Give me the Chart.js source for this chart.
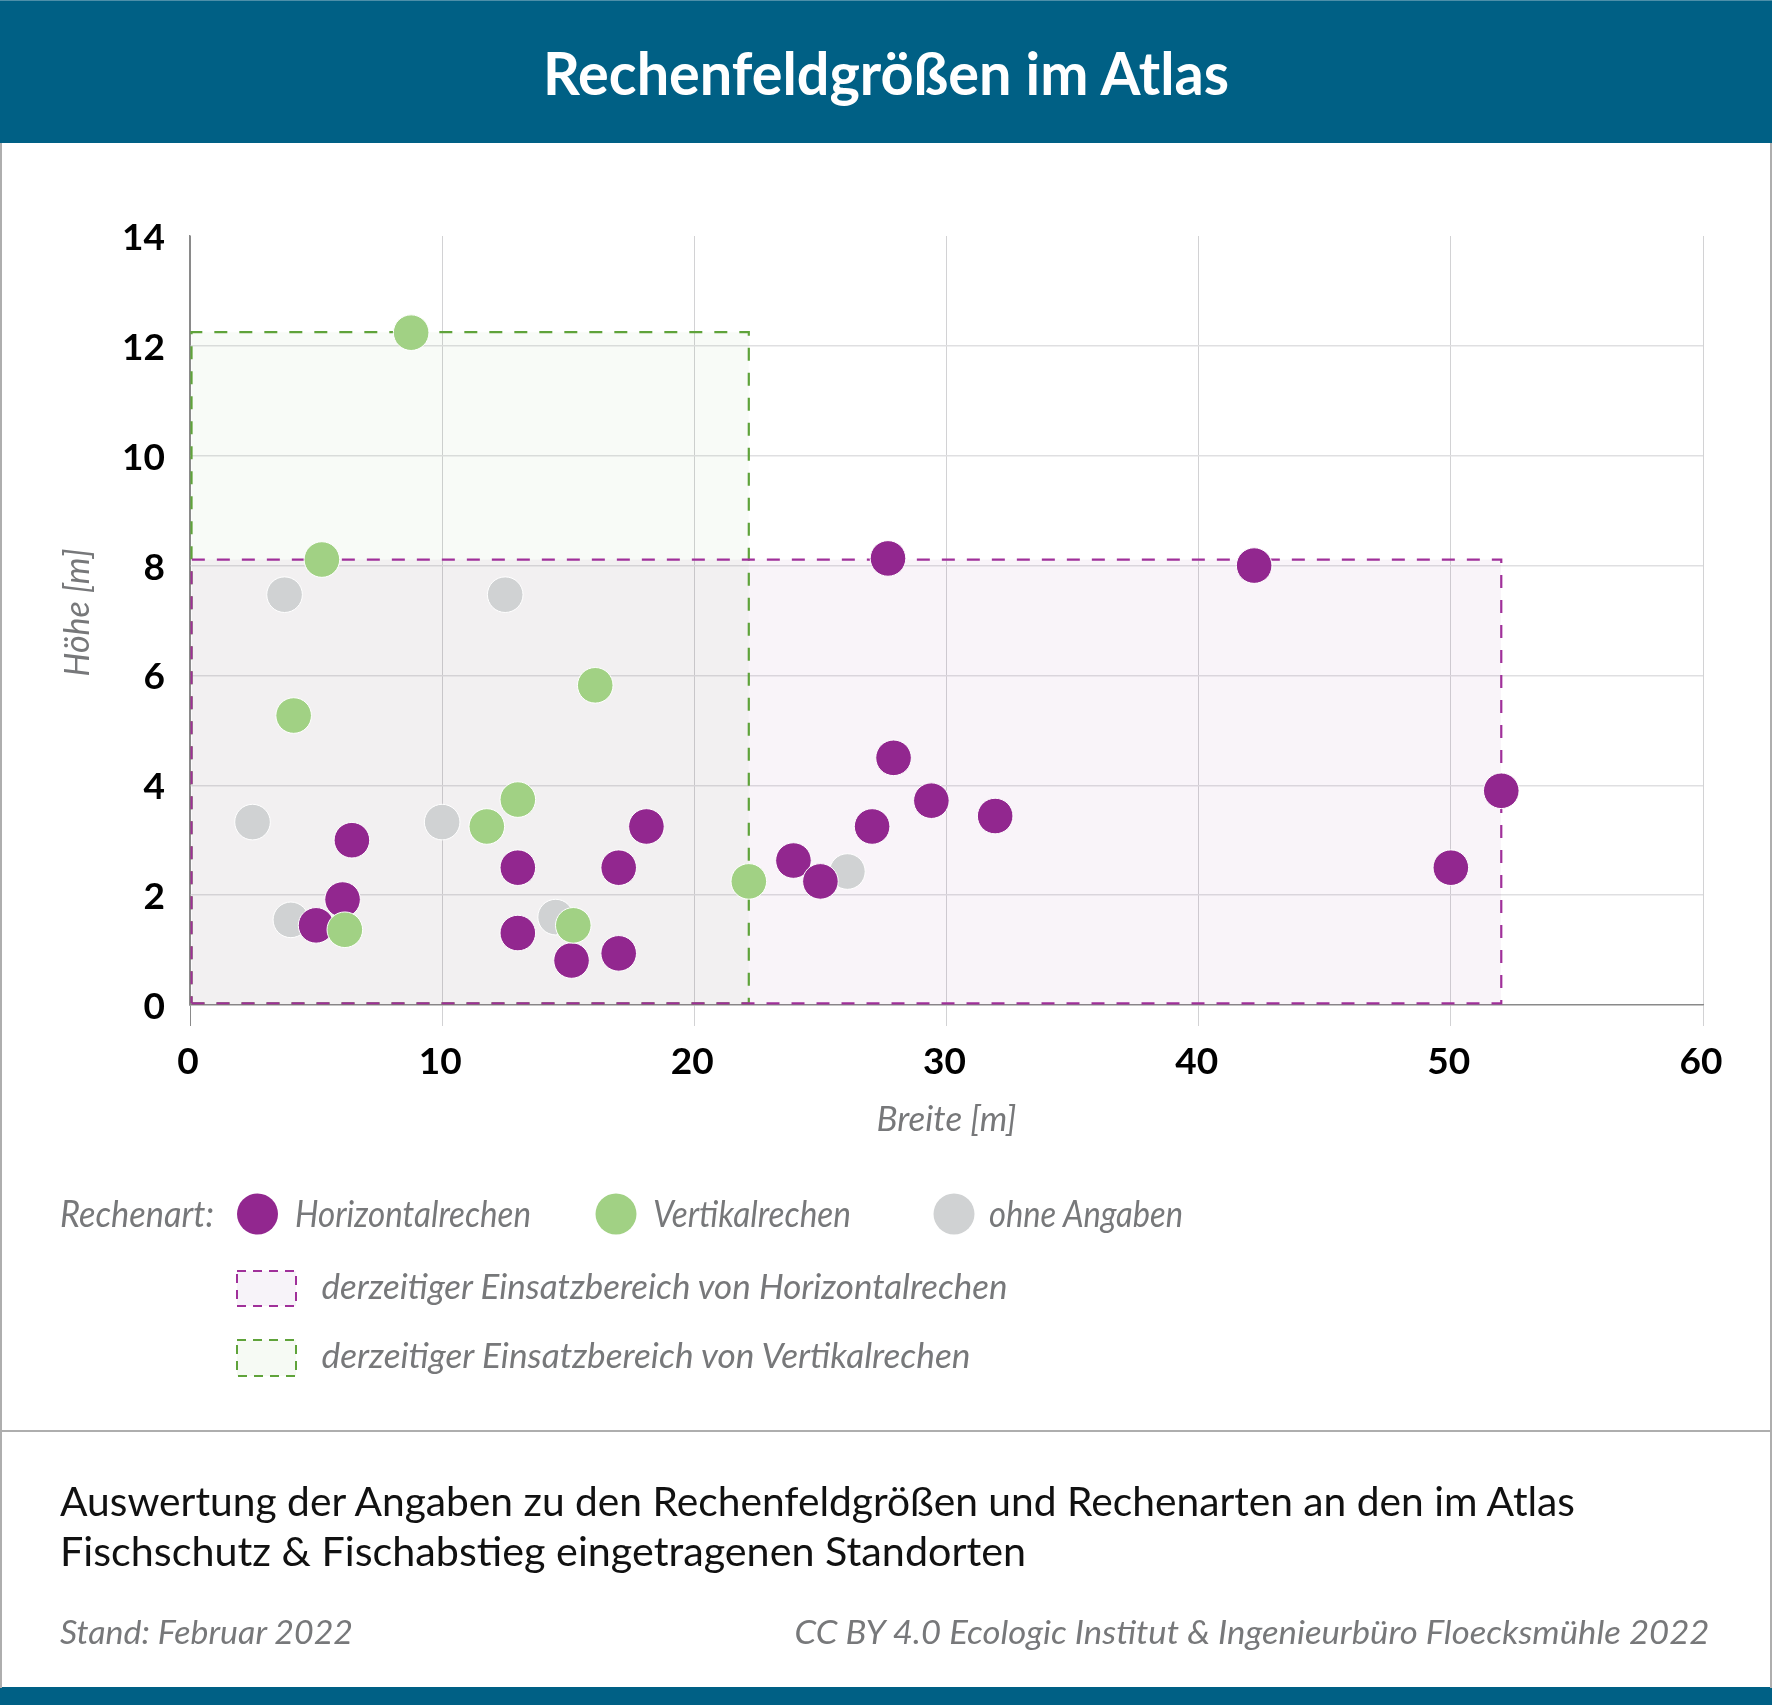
<!DOCTYPE html>
<html lang="de"><head><meta charset="utf-8">
<style>
html,body{margin:0;padding:0;background:#fff}
#page{position:relative;width:1772px;height:1705px;overflow:hidden;background:#fff}
#box{position:absolute;left:0;top:143px;width:1772px;height:1000px}
#c{display:block;width:1772px;height:1000px}
#over{position:absolute;left:0;top:0;width:1772px;height:1705px;pointer-events:none}
text{font-family:Lato,sans-serif}
.g{fill:#77787a;font-style:italic}
</style>
<script src="https://cdn.jsdelivr.net/npm/chart.js@4"></script>
</head><body>
<div id="page">
<div id="box"><canvas id="c" width="1772" height="1000"></canvas></div>
<svg id="over" width="1772" height="1705" viewBox="0 0 1772 1705">
  <rect x="0" y="0" width="1772" height="143" fill="#006085"/>
  <rect x="0" y="0" width="1772" height="1" fill="#4d8fa9"/>
  <rect x="0" y="1687" width="1772" height="18" fill="#006085"/>
  <rect x="0" y="143" width="2" height="1545" fill="#aeaeae"/>
  <rect x="1770" y="143" width="2" height="1545" fill="#aeaeae"/>
  <rect x="0" y="1430" width="1772" height="2" fill="#aeaeae"/>
  <text x="886" y="95" text-anchor="middle" font-size="60" font-weight="700" fill="#fff" textLength="686" lengthAdjust="spacingAndGlyphs">Rechenfeldgrößen im Atlas</text>
  <text class="g" x="60" y="1226.5" font-size="36" textLength="154" lengthAdjust="spacingAndGlyphs">Rechenart:</text>
  <circle cx="257.5" cy="1214" r="20.5" fill="#92278f"/>
  <text class="g" x="295" y="1226.5" font-size="36" textLength="236" lengthAdjust="spacingAndGlyphs">Horizontalrechen</text>
  <circle cx="616" cy="1214" r="20.5" fill="#a1d184"/>
  <text class="g" x="653" y="1226.5" font-size="36" textLength="198" lengthAdjust="spacingAndGlyphs">Vertikalrechen</text>
  <circle cx="954" cy="1214" r="20.5" fill="#d0d2d3"/>
  <text class="g" x="989" y="1226.5" font-size="36" textLength="194" lengthAdjust="spacingAndGlyphs">ohne Angaben</text>
  <rect x="237" y="1271" width="59" height="35" fill="#f7f3f9" stroke="#a0309a" stroke-width="2" stroke-dasharray="9 7"/>
  <text class="g" x="321.5" y="1298.5" font-size="35" textLength="686" lengthAdjust="spacingAndGlyphs">derzeitiger Einsatzbereich von Horizontalrechen</text>
  <rect x="237" y="1340" width="59" height="36" fill="#f6faf4" stroke="#5fa33a" stroke-width="2" stroke-dasharray="9 7"/>
  <text class="g" x="321.5" y="1367.5" font-size="35" textLength="649" lengthAdjust="spacingAndGlyphs">derzeitiger Einsatzbereich von Vertikalrechen</text>
  <text x="60" y="1516" font-size="41" fill="#111" textLength="1515" lengthAdjust="spacingAndGlyphs">Auswertung der Angaben zu den Rechenfeldgrößen und Rechenarten an den im Atlas</text>
  <text x="60" y="1566" font-size="41" fill="#111" textLength="966" lengthAdjust="spacingAndGlyphs">Fischschutz &amp; Fischabstieg eingetragenen Standorten</text>
  <text class="g" x="60" y="1644" font-size="33" textLength="293" lengthAdjust="spacingAndGlyphs">Stand: Februar 2022</text>
  <text class="g" x="794.5" y="1644" font-size="33" textLength="915" lengthAdjust="spacingAndGlyphs">CC BY 4.0 Ecologic Institut &amp; Ingenieurbüro Floecksmühle 2022</text>
</svg>
</div>
<script>
const horizontalX=[6.42,6.05,5.0,13,17,18.1,13,15.13,17,23.93,25,27.68,42.2,27.9,29.4,31.93,27.05,50,52];
const horizontalY=[3.0,1.92,1.45,2.5,2.5,3.25,1.31,0.81,0.94,2.63,2.25,8.13,8.0,4.5,3.72,3.44,3.25,2.5,3.9];
const vertikalX=[13,11.77,6.14,15.2,22.16,8.77,5.23,16.07,4.11];
const vertikalY=[3.74,3.25,1.37,1.45,2.25,12.24,8.11,5.82,5.27];
const ohneX=[2.48,10,4.0,14.5,3.75,12.5,26.07];
const ohneY=[3.33,3.33,1.55,1.6,7.47,7.47,2.43];
const bereichHX=[0.06,52,52,0.06,0.06];
const bereichHY=[0.03,0.03,8.11,8.11,0.03];
const bereichVX=[0.06,22.16,22.16,0.06,0.06];
const bereichVY=[0.03,0.03,12.25,12.25,0.03];
const xTicks=[0,10,20,30,40,50,60];
const yTicks=[0,2,4,6,8,10,12,14];
const zip=(a,b)=>a.map((v,i)=>({x:v,y:b[i]}));
const pts=(label,xs,ys,col,order)=>({label,data:zip(xs,ys),type:'scatter',showLine:false,order,clip:false,
  pointRadius:17.8,pointHoverRadius:17.8,pointBackgroundColor:col,pointBorderColor:'#fff',pointBorderWidth:1});
const outline=(label,xs,ys,col,order)=>({label,data:zip(xs,ys),type:'scatter',showLine:true,fill:false,order,clip:false,tension:0,
  borderColor:col,borderWidth:2.2,borderDash:[13,12],pointRadius:0,pointHoverRadius:0});
const area=(label,xs,ys,col,order)=>({label,data:[{x:xs[3],y:ys[3]},{x:xs[2],y:ys[2]}],type:'scatter',showLine:true,fill:'origin',order,tension:0,
  backgroundColor:col,borderWidth:0,borderColor:'transparent',pointRadius:0,pointHoverRadius:0});
new Chart(document.getElementById('c'),{
  type:'scatter',
  data:{datasets:[
    area('Fläche Vertikalrechen',bereichVX,bereichVY,'rgba(95,163,58,0.045)',9),
    area('Fläche Horizontalrechen',bereichHX,bereichHY,'rgba(146,39,143,0.05)',8),
    outline('Einsatzbereich Vertikalrechen',bereichVX,bereichVY,'#5fa33a',7),
    outline('Einsatzbereich Horizontalrechen',bereichHX,bereichHY,'#a0309a',6),
    pts('ohne Angaben',ohneX,ohneY,'#d0d2d3',5),
    pts('Horizontalrechen',horizontalX,horizontalY,'#92278f',4),
    pts('Vertikalrechen',vertikalX,vertikalY,'#a1d184',3)
  ]},
  options:{
    responsive:false,animation:false,events:[],devicePixelRatio:1,
    layout:{padding:{left:0,right:69,top:93,bottom:0}},
    plugins:{legend:{display:false},tooltip:{enabled:false},title:{display:false}},
    scales:{
      x:{type:'linear',min:0,max:60,
        afterBuildTicks:s=>{s.ticks=xTicks.map(v=>({value:v}))},
        afterFit:s=>{s.height=138},
        border:{color:'#8a8a8a',width:1.5},
        grid:{color:c=>c.tick&&c.tick.value===0?'#8a8a8a':'#d2d2d4',lineWidth:1,tickLength:21,tickColor:c=>c.tick&&c.tick.value===0?'#8a8a8a':'#d2d2d4'},
        ticks:{color:'#000',padding:14,labelOffset:-2,maxRotation:0,autoSkip:false,font:{family:'Lato',weight:'bold',size:37}},
        title:{display:true,text:'Breite [m]',color:'#77787a',padding:{top:0,bottom:2},font:{family:'Lato',style:'italic',size:35}}
      },
      y:{type:'linear',min:0,max:14,
        afterBuildTicks:s=>{s.ticks=yTicks.map(v=>({value:v}))},
        afterFit:s=>{s.width=190},
        border:{color:'#8a8a8a',width:1.5},
        grid:{color:c=>(c.tick&&(c.tick.value===14||c.tick.value===0))?'transparent':'#dfdfe1',lineWidth:1.5,drawTicks:false},
        ticks:{color:'#000',padding:25,labelOffset:2,autoSkip:false,font:{family:'Lato',weight:'bold',size:37}},
        title:{display:true,text:'  Höhe [m]',color:'#77787a',padding:{top:58,bottom:0},font:{family:'Lato',style:'italic',size:34}}
      }
    }
  }
});
</script>
</body></html>
